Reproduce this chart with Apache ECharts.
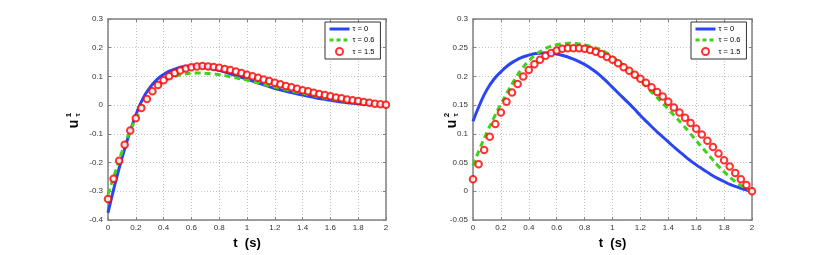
<!DOCTYPE html>
<html>
<head>
<meta charset="utf-8">
<script src="https://cdn.jsdelivr.net/npm/echarts@6/dist/echarts.min.js"></script>
<style>html,body{margin:0;padding:0;background:#fff}#c{width:830px;height:255px}</style>
</head>
<body>
<div id="c"></div>
<script>
// time samples for the continuous curves
const tLine = [0,0.05,0.1,0.15,0.2,0.25,0.3,0.35,0.4,0.45,0.5,0.55,0.6,0.65,0.7,0.75,0.8,0.85,0.9,0.95,1.0,1.05,1.1,1.15,1.2,1.25,1.3,1.35,1.4,1.45,1.5,1.55,1.6,1.65,1.7,1.75,1.8,1.85,1.9,1.95,2.0];
// time samples for the circle markers
const tMark = [0,0.04,0.08,0.12,0.16,0.2,0.24,0.28,0.32,0.36,0.4,0.44,0.48,0.52,0.56,0.6,0.64,0.68,0.72,0.76,0.8,0.84,0.88,0.92,0.96,1.0,1.04,1.08,1.12,1.16,1.2,1.24,1.28,1.32,1.36,1.4,1.44,1.48,1.52,1.56,1.6,1.64,1.68,1.72,1.76,1.8,1.84,1.88,1.92,1.96,2.0];

// left panel u^1
const u1Tau0 = [-0.375,-0.275,-0.185,-0.105,-0.035,0.022,0.06,0.088,0.107,0.12,0.129,0.134,0.136,0.135,0.132,0.127,0.121,0.114,0.106,0.098,0.09,0.082,0.074,0.066,0.058,0.052,0.046,0.040,0.035,0.030,0.025,0.021,0.017,0.013,0.010,0.007,0.005,0.003,0.002,0.001,0];
const u1Tau06 = [-0.31,-0.237,-0.163,-0.1,-0.048,-0.005,0.033,0.062,0.083,0.095,0.103,0.108,0.111,0.112,0.111,0.109,0.106,0.102,0.097,0.092,0.087,0.081,0.075,0.069,0.063,0.057,0.052,0.046,0.041,0.036,0.031,0.026,0.022,0.018,0.014,0.011,0.008,0.005,0.003,0.001,0];
const u1Tau15 = [-0.327,-0.256,-0.194,-0.138,-0.088,-0.046,-0.010,0.021,0.048,0.070,0.087,0.101,0.112,0.121,0.128,0.132,0.135,0.136,0.135,0.133,0.130,0.126,0.122,0.117,0.112,0.106,0.101,0.095,0.089,0.084,0.078,0.073,0.067,0.062,0.057,0.052,0.048,0.043,0.039,0.035,0.031,0.027,0.024,0.020,0.017,0.014,0.011,0.008,0.005,0.003,0.001];

// right panel u^2
const u2Tau0 = [0.122,0.152,0.177,0.195,0.208,0.219,0.227,0.233,0.237,0.240,0.241,0.241,0.239,0.236,0.232,0.227,0.221,0.213,0.204,0.193,0.181,0.169,0.157,0.145,0.132,0.120,0.108,0.097,0.086,0.075,0.065,0.055,0.046,0.038,0.030,0.023,0.017,0.011,0.007,0.003,0];
const u2Tau06 = [0.045,0.075,0.103,0.128,0.152,0.174,0.195,0.213,0.227,0.238,0.246,0.252,0.255,0.257,0.258,0.257,0.255,0.252,0.248,0.242,0.234,0.225,0.215,0.204,0.192,0.180,0.168,0.156,0.143,0.130,0.117,0.103,0.088,0.074,0.060,0.046,0.034,0.023,0.013,0.006,0];
const u2Tau15 = [0.021,0.047,0.072,0.095,0.117,0.137,0.156,0.172,0.187,0.200,0.211,0.221,0.229,0.236,0.241,0.245,0.248,0.249,0.249,0.249,0.248,0.246,0.243,0.239,0.234,0.229,0.223,0.216,0.210,0.203,0.196,0.189,0.181,0.173,0.165,0.156,0.146,0.137,0.128,0.119,0.109,0.099,0.088,0.077,0.066,0.054,0.043,0.032,0.021,0.011,0.000];

const seriesNames = ['τ = 0','τ = 0.6','τ = 1.5'];
const xTickLabels = ['0','0.2','0.4','0.6','0.8','1','1.2','1.4','1.6','1.8','2'];
const y1TickLabels = ['-0.4','-0.3','-0.2','-0.1','0','0.1','0.2','0.3'];
const y2TickLabels = ['-0.05','0','0.05','0.1','0.15','0.2','0.25','0.3'];

const pair = (xs, ys) => xs.map((x, i) => [x, ys[i]]);
const FONT = '"Liberation Sans", Arial, sans-serif';
const AX = '#808080';
const GRIDC = '#c4c4c4';
const BLUE = '#2a45f5', GREEN = '#3ed21a', RED = '#ff0000';

function xAx(gi, pos) {
  const main = pos === 'bottom';
  return {
    type: 'value', gridIndex: gi, position: pos, min: 0, max: 2, interval: 0.2,
    axisLine: { show: true, onZero: false, lineStyle: { color: AX, width: 1.5 } },
    axisTick: { show: true, inside: true, length: 3, lineStyle: { color: AX } },
    axisLabel: { show: main, fontSize: 8, color: '#333', margin: 4, fontFamily: FONT,
      formatter: v => xTickLabels[Math.round(v / 0.2)] },
    splitLine: { show: main, lineStyle: { color: GRIDC, type: [1, 2], width: 1 } },
    name: main ? 't  (s)' : '', nameLocation: 'middle', nameGap: 17,
    nameTextStyle: { fontSize: 13, fontWeight: 'bold', color: '#000', fontFamily: FONT }
  };
}
function yAx(gi, pos, min, max, step, labels) {
  const main = pos === 'left';
  return {
    type: 'value', gridIndex: gi, position: pos, min: min, max: max, interval: step,
    axisLine: { show: true, onZero: false, lineStyle: { color: AX, width: 1.5 } },
    axisTick: { show: true, inside: true, length: 3, lineStyle: { color: AX } },
    axisLabel: { show: main, fontSize: 8, color: '#333', margin: 5, fontFamily: FONT,
      formatter: v => labels[Math.round((v - min) / step)] },
    splitLine: { show: main, lineStyle: { color: GRIDC, type: [1, 2], width: 1 } }
  };
}

function seriesFor(gi, a, b, c) {
  return [
    { name: seriesNames[0], type: 'line', xAxisIndex: gi * 2, yAxisIndex: gi * 2, data: pair(tLine, a),
      showSymbol: false, symbol: 'none', smooth: 0.5, lineStyle: { color: BLUE, width: 3 }, itemStyle: { color: BLUE }, z: 2 },
    { name: seriesNames[1], type: 'line', xAxisIndex: gi * 2, yAxisIndex: gi * 2, data: pair(tLine, b),
      showSymbol: false, symbol: 'none', smooth: 0.5, lineStyle: { color: GREEN, width: 3, type: [6, 4] }, itemStyle: { color: GREEN }, z: 3 },
    { name: seriesNames[2], type: 'scatter', xAxisIndex: gi * 2, yAxisIndex: gi * 2, data: pair(tMark, c),
      symbol: 'emptyCircle', symbolSize: 6.5, itemStyle: { color: RED, borderColor: RED, borderWidth: 2 }, z: 4 }
  ];
}

function legendAt(left) {
  return {
    data: [
      { name: seriesNames[0], itemStyle: { opacity: 0 }, lineStyle: { width: 3, color: BLUE } },
      { name: seriesNames[1], itemStyle: { opacity: 0 }, lineStyle: { width: 3, color: GREEN, type: [4, 3] } },
      { name: seriesNames[2] }
    ],
    orient: 'vertical', left: left, top: 22, padding: [3, 6, 3, 3], itemGap: 3,
    itemWidth: 20, itemHeight: 7, borderColor: '#333', borderWidth: 1, backgroundColor: '#fff', borderRadius: 0,
    textStyle: { fontSize: 7.5, color: '#000', fontFamily: FONT, padding: [0, 0, 0, -2] }, selectedMode: false
  };
}

function ylabel(x, y, sup) {
  return [
    { type: 'text', x: x, y: y, rotation: Math.PI / 2,
      style: { text: 'u', font: 'bold 14px ' + FONT, fill: '#000', align: 'center', verticalAlign: 'middle' } },
    { type: 'text', x: x - 5, y: y - 9, rotation: Math.PI / 2,
      style: { text: sup, font: 'bold 8px ' + FONT, fill: '#000', align: 'center', verticalAlign: 'middle' } },
    { type: 'text', x: x + 4, y: y - 9, rotation: Math.PI / 2,
      style: { text: 'τ', font: 'bold 7px ' + FONT, fill: '#000', align: 'center', verticalAlign: 'middle' } }
  ];
}

const chart = echarts.init(document.getElementById('c'), null, { renderer: 'canvas' });
chart.setOption({
  animation: false,
  backgroundColor: '#fff',
  grid: [
    { left: 108, top: 19, width: 278, height: 208 },
    { left: 473, top: 19, width: 279, height: 208 }
  ],
  xAxis: [xAx(0, 'bottom'), xAx(0, 'top'), xAx(1, 'bottom'), xAx(1, 'top')],
  yAxis: [
    yAx(0, 'left', -0.4, 0.3, 0.1, y1TickLabels), yAx(0, 'right', -0.4, 0.3, 0.1, y1TickLabels),
    yAx(1, 'left', -0.05, 0.3, 0.05, y2TickLabels), yAx(1, 'right', -0.05, 0.3, 0.05, y2TickLabels)
  ],
  legend: [legendAt(325), legendAt(691)],
  graphic: ylabel(74, 124, '1').concat(ylabel(452, 124, '2')),
  series: seriesFor(0, u1Tau0, u1Tau06, u1Tau15).concat(seriesFor(1, u2Tau0, u2Tau06, u2Tau15))
});
</script>
</body>
</html>
